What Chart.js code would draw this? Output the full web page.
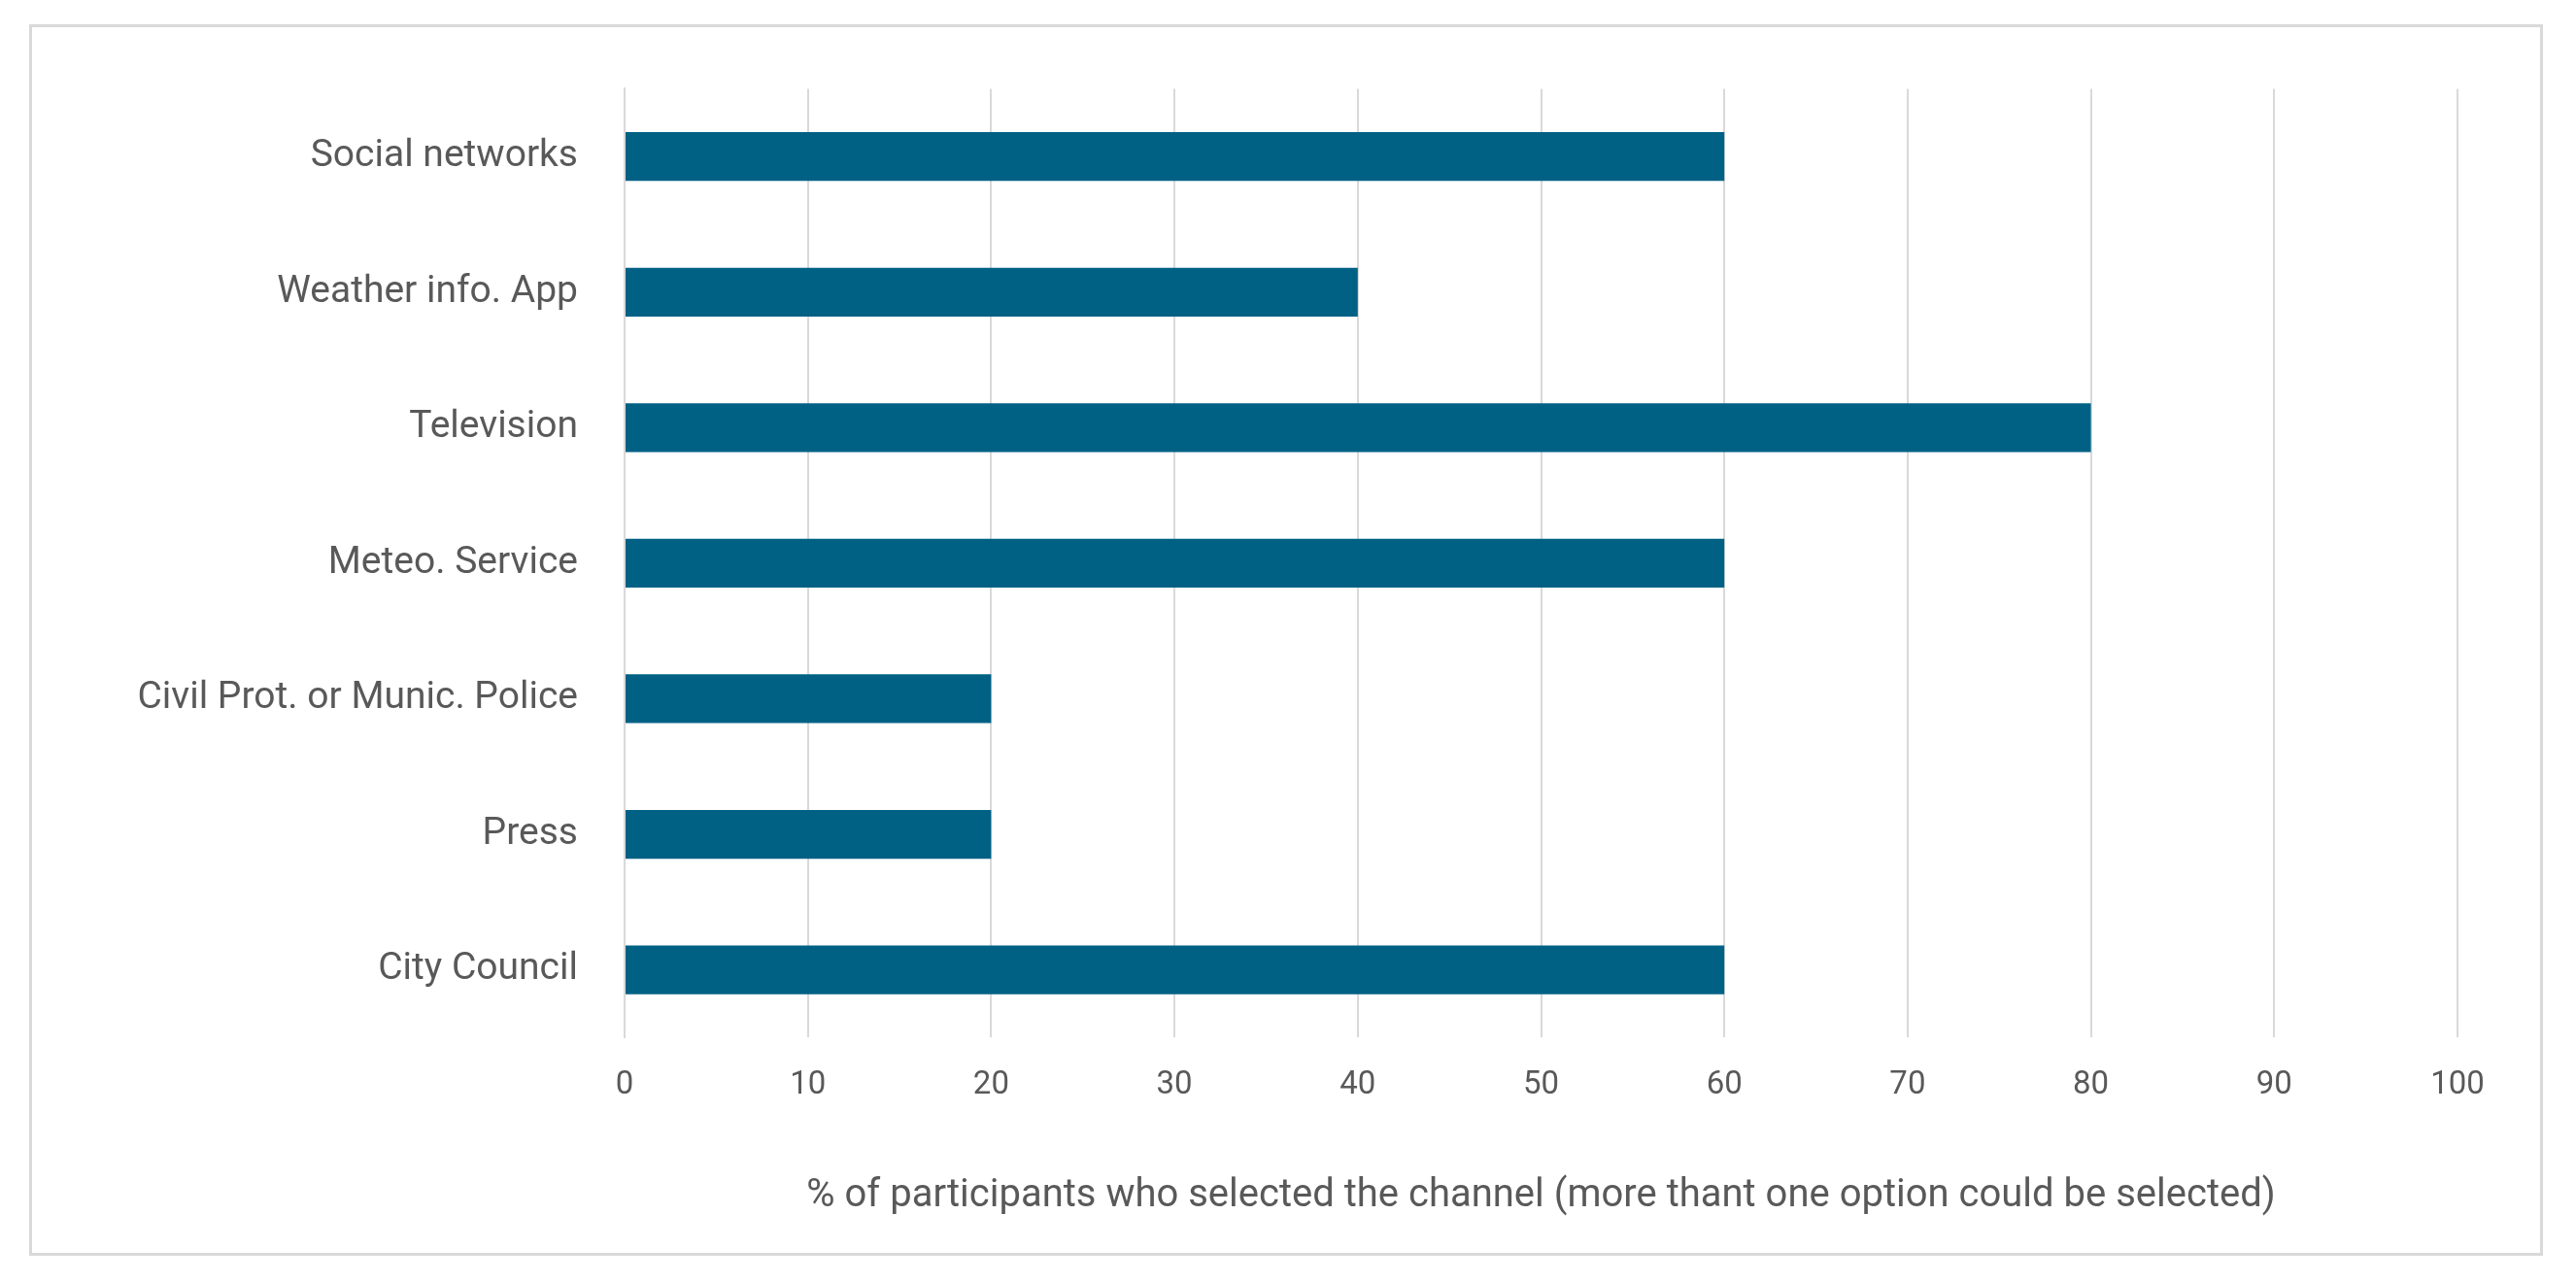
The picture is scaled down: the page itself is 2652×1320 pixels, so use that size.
<!DOCTYPE html>
<html>
<head>
<meta charset="utf-8">
<script src="https://cdn.jsdelivr.net/npm/chart.js@4/dist/chart.umd.min.js"></script>
<style>
  html, body { margin: 0; background: #fff; }
  #frame {
    position: absolute; left: 30px; top: 25px; width: 2588px; height: 1268px;
    border: 3px solid #d9d9d9; box-sizing: border-box;
  }
  #wrap { position: absolute; left: 0; top: 0; width: 2582px; height: 1262px; }
</style>
</head>
<body>
<div id="frame"><div id="wrap"><canvas id="chart"></canvas></div></div>
<script>
const categories = ["Social networks", "Weather info. App", "Television", "Meteo. Service",
  "Civil Prot. or Munic. Police", "Press", "City Council"];
const percentages = [60, 40, 80, 60, 20, 20, 60];
const axisTitle = "% of participants who selected the channel (more thant one option could be selected)";

const ctx = document.getElementById("chart").getContext("2d");
const chart = new Chart(ctx, {
   type: "bar",
   data: {
      labels: categories,
      datasets: [
         {
            label: "Channel",
            data: percentages,
            backgroundColor: "#006185",
            barPercentage: 0.36,
            categoryPercentage: 1,
         },
      ],
   },
   options: {
      indexAxis: "y",
      responsive: true,
      maintainAspectRatio: false,
      animation: false,
      layout: { padding: { left: 30, right: 85, top: 50, bottom: 30 } },
      plugins: { legend: { display: false }, tooltip: { enabled: false } },
      scales: {
         x: {
            min: 0,
            max: 100,
            ticks: { stepSize: 10, color: "#595959", font: { family: "Roboto", size: 33 }, padding: 30 },
            grid: { color: "#d9d9d9", lineWidth: 2, drawTicks: false },
            border: { display: false },
            title: {
               display: true,
               text: axisTitle,
               color: "#595959",
               font: { family: "Roboto", size: 40 },
               padding: { top: 40 },
            },
         },
         y: {
            afterFit: (axis) => { axis.width = 580; },
            ticks: { color: "#595959", font: { family: "Roboto", size: 39 }, padding: 40 },
            grid: { display: false },
            border: { color: "#d9d9d9", width: 2 },
         },
      },
   },
});
</script>
</body>
</html>
